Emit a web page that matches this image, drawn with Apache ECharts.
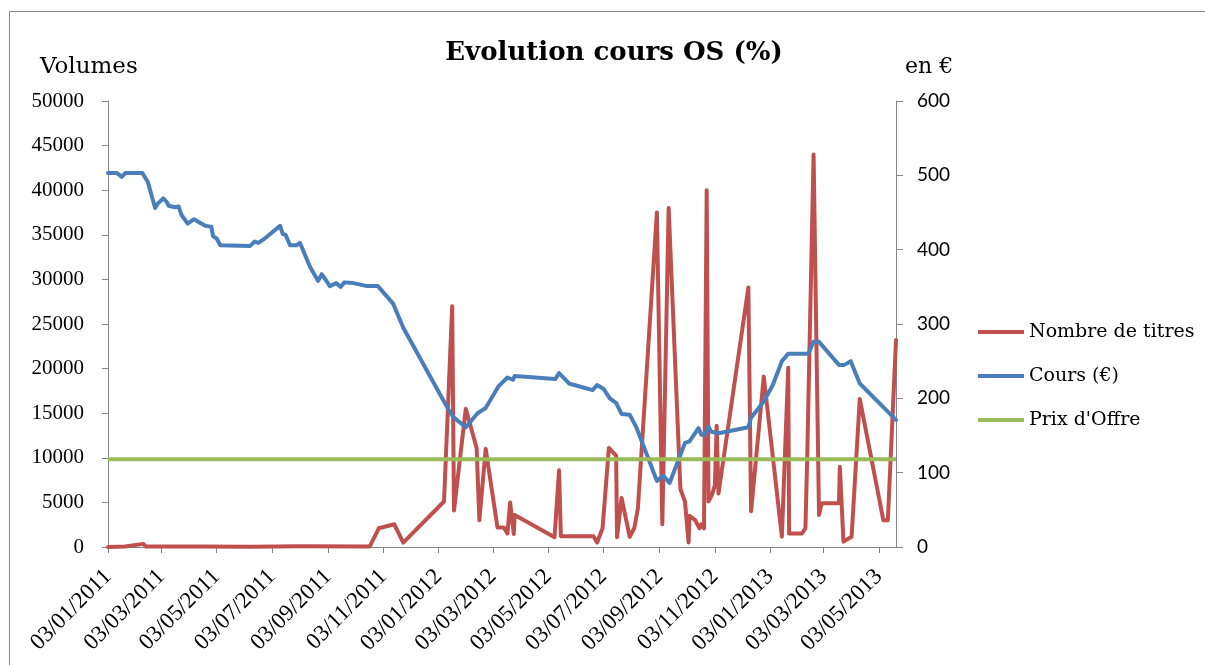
<!DOCTYPE html>
<html>
<head>
<meta charset="utf-8">
<script src="https://cdn.jsdelivr.net/npm/echarts@6/dist/echarts.min.js"></script>
<style>
  html, body { margin: 0; padding: 0; background: #fff; }
  #chart { width: 1205px; height: 665px; }
</style>
</head>
<body>
<div id="chart"></div>
<script>
// Cours (€) - right axis
const priceDates = [
  '2011-01-03', '2011-01-13', '2011-01-18', '2011-01-22', '2011-02-10', '2011-02-16',
  '2011-02-24', '2011-02-27', '2011-03-01', '2011-03-05', '2011-03-09', '2011-03-11',
  '2011-03-18', '2011-03-22', '2011-03-25', '2011-04-01', '2011-04-08', '2011-04-15',
  '2011-04-21', '2011-04-27', '2011-04-29', '2011-05-03', '2011-05-07', '2011-06-09',
  '2011-06-14', '2011-06-18', '2011-06-25', '2011-07-12', '2011-07-15', '2011-07-18',
  '2011-07-23', '2011-07-30', '2011-08-03', '2011-08-14', '2011-08-23', '2011-08-27',
  '2011-09-05', '2011-09-12', '2011-09-17', '2011-09-21', '2011-10-01', '2011-10-16',
  '2011-10-28', '2011-11-14', '2011-11-25', '2012-01-12', '2012-01-19', '2012-02-02',
  '2012-02-15', '2012-02-24', '2012-03-09', '2012-03-19', '2012-03-25', '2012-03-27',
  '2012-05-11', '2012-05-15', '2012-05-26', '2012-06-21', '2012-06-26', '2012-07-03',
  '2012-07-10', '2012-07-17', '2012-07-23', '2012-08-01', '2012-08-08', '2012-08-31',
  '2012-09-07', '2012-09-14', '2012-10-01', '2012-10-06', '2012-10-16', '2012-10-19',
  '2012-10-23', '2012-10-27', '2012-10-30', '2012-11-07', '2012-12-10', '2012-12-13',
  '2012-12-24', '2012-12-28', '2013-01-06', '2013-01-16', '2013-01-23', '2013-02-14',
  '2013-02-20', '2013-02-26', '2013-03-20', '2013-03-26', '2013-04-02', '2013-04-12',
  '2013-05-22',
];
const prices = [
  503, 503, 498, 503, 503, 491,
  456, 462, 460, 469, 464, 459,
  457, 458, 447, 435, 441, 436,
  432, 431, 418, 415, 406, 405,
  411, 409, 415, 432, 421, 420,
  406, 406, 409, 377, 358, 367,
  351, 355, 350, 356, 355, 351,
  351, 327, 295, 189, 175, 161,
  180, 187, 216, 228, 225, 230,
  226, 234, 220, 211, 218, 213,
  200, 194, 179, 178, 162, 89,
  96, 86, 140, 142, 160, 151,
  151, 162, 155, 153, 161, 174,
  191, 198, 218, 250, 260, 260,
  276, 276, 245, 245, 250, 220,
  171,
];

// Nombre de titres - left axis
const volumeDates = [
  '2011-01-03', '2011-01-22', '2011-02-11', '2011-02-14', '2011-04-14', '2011-06-09',
  '2011-08-03', '2011-10-19', '2011-10-29', '2011-11-15', '2011-11-25', '2012-01-09',
  '2012-01-18', '2012-01-20', '2012-02-02', '2012-02-14', '2012-02-17', '2012-02-24',
  '2012-03-08', '2012-03-15', '2012-03-19', '2012-03-22', '2012-03-26', '2012-03-27',
  '2012-05-10', '2012-05-15', '2012-05-17', '2012-06-22', '2012-06-26', '2012-07-02',
  '2012-07-09', '2012-07-17', '2012-07-18', '2012-07-23', '2012-08-01', '2012-08-06',
  '2012-08-10', '2012-08-31', '2012-09-06', '2012-09-13', '2012-09-26', '2012-10-01',
  '2012-10-05', '2012-10-06', '2012-10-12', '2012-10-17', '2012-10-19', '2012-10-22',
  '2012-10-25', '2012-10-27', '2012-10-31', '2012-11-03', '2012-11-05', '2012-11-07',
  '2012-12-10', '2012-12-13', '2012-12-27', '2013-01-16', '2013-01-23', '2013-01-24',
  '2013-02-07', '2013-02-11', '2013-02-13', '2013-02-20', '2013-02-26', '2013-03-01',
  '2013-03-20', '2013-03-21', '2013-03-25', '2013-04-03', '2013-04-12', '2013-05-08',
  '2013-05-13', '2013-05-22',
];
const volumes = [
  0, 50, 350, 50, 50, 20,
  80, 60, 2100, 2550, 500, 5100,
  27000, 4100, 15500, 11100, 3000, 11000,
  2200, 2200, 1500, 5000, 1450, 3600,
  1100, 8600, 1200, 1200, 500, 2100,
  11100, 10250, 1100, 5500, 1150, 2100,
  4300, 37500, 2550, 38000, 6500, 5100,
  500, 3500, 3050, 2100, 2550, 2100,
  40000, 5100, 5900, 6900, 13600, 6000,
  29100, 4000, 19100, 1150, 20100, 1500,
  1500, 2100, 10100, 44000, 3600, 4900,
  4900, 9000, 600, 1150, 16600, 3000,
  3000, 23200,
];

// Prix d'Offre - right axis
const offerDates = ['2011-01-03', '2013-05-22'];
const offerPrices = [118, 118];

const tickLabels = [
  '03/01/2011', '03/03/2011', '03/05/2011', '03/07/2011', '03/09/2011',
  '03/11/2011', '03/01/2012', '03/03/2012', '03/05/2012', '03/07/2012',
  '03/09/2012', '03/11/2012', '03/01/2013', '03/03/2013', '03/05/2013',
];

// dates go on a plain value axis as UTC timestamps, so the ticks can sit on the 3rd
const parseFr = (s) => {
  const [d, m, y] = s.split('/').map(Number);
  return Date.UTC(y, m - 1, d);
};
const parseIso = (s) => {
  const [y, m, d] = s.split('-').map(Number);
  return Date.UTC(y, m - 1, d);
};
const tickValues = tickLabels.map(parseFr);
const toPairs = (dates, values) => dates.map((d, i) => [parseIso(d), values[i]]);

const axisGrey = '#868686';
const serif = '"DejaVu Serif", serif';
const numSerif = '"Liberation Serif", serif';

const chart = echarts.init(document.getElementById('chart'), null, { renderer: 'canvas' });
chart.setOption({
  animation: false,
  backgroundColor: '#fff',
  title: {
    text: 'Evolution cours OS (%)',
    left: 614,
    top: 40,
    textAlign: 'center',
    padding: 0,
    textStyle: { fontFamily: serif, fontWeight: 'bold', fontSize: 26, color: '#000' },
  },
  graphic: [
    {
      type: 'rect',
      silent: true,
      shape: { x: 9.5, y: 11.5, width: 1300, height: 700 },
      style: { fill: 'none', stroke: axisGrey, lineWidth: 1 },
    },
    {
      type: 'text',
      left: 40,
      top: 56,
      style: { text: 'Volumes', font: '23px ' + serif, fill: '#000' },
    },
    {
      type: 'text',
      left: 905,
      top: 56,
      style: { text: 'en €', font: '22px ' + serif, fill: '#000' },
    },
  ],
  legend: {
    orient: 'vertical',
    left: 973,
    top: 316,
    icon: 'rect',
    itemWidth: 46,
    itemHeight: 4,
    itemGap: 22,
    textStyle: { fontFamily: serif, fontSize: 19, color: '#000', lineHeight: 22 },
    data: ['Nombre de titres', 'Cours (€)', "Prix d'Offre"],
  },
  grid: {
    left: 108,
    right: 309,
    top: 101,
    bottom: 118,
    outerBoundsMode: 'none',
  },
  xAxis: {
    type: 'value',
    min: parseIso(priceDates[0]),
    max: parseIso(priceDates[priceDates.length - 1]),
    axisLine: { lineStyle: { color: axisGrey, width: 1 } },
    axisTick: { customValues: tickValues, length: 6, lineStyle: { color: axisGrey } },
    axisLabel: {
      customValues: tickValues,
      rotate: 45,
      margin: 26,
      fontFamily: numSerif,
      fontSize: 23,
      color: '#000',
      formatter: (v) => {
        const i = tickValues.indexOf(v);
        return i >= 0 ? tickLabels[i] : '';
      },
    },
    splitLine: { show: false },
  },
  yAxis: [
    {
      type: 'value',
      min: 0,
      max: 50000,
      interval: 5000,
      axisLine: { show: true, lineStyle: { color: axisGrey, width: 1 } },
      axisTick: { show: true, length: 6, lineStyle: { color: axisGrey } },
      axisLabel: {
        margin: 24,
        fontFamily: numSerif,
        fontSize: 21,
        color: '#000',
        formatter: (v) => String(v),
      },
      splitLine: { show: false },
    },
    {
      type: 'value',
      min: 0,
      max: 600,
      interval: 100,
      position: 'right',
      axisLine: { show: true, lineStyle: { color: axisGrey, width: 1 } },
      axisTick: { show: true, length: 7, lineStyle: { color: axisGrey } },
      axisLabel: { margin: 21, fontFamily: 'Lato, sans-serif', fontSize: 19, color: '#000' },
      splitLine: { show: false },
    },
  ],
  series: [
    {
      name: 'Nombre de titres',
      type: 'line',
      yAxisIndex: 0,
      symbol: 'none',
      color: '#C0504D',
      lineStyle: { width: 4, join: 'round', cap: 'round' },
      data: toPairs(volumeDates, volumes),
    },
    {
      name: 'Cours (€)',
      type: 'line',
      yAxisIndex: 1,
      symbol: 'none',
      color: '#4A7EBB',
      lineStyle: { width: 4, join: 'round', cap: 'round' },
      data: toPairs(priceDates, prices),
    },
    {
      name: "Prix d'Offre",
      type: 'line',
      yAxisIndex: 1,
      symbol: 'none',
      color: '#9BBB59',
      lineStyle: { width: 4 },
      data: toPairs(offerDates, offerPrices),
    },
  ],
});
</script>
</body>
</html>
